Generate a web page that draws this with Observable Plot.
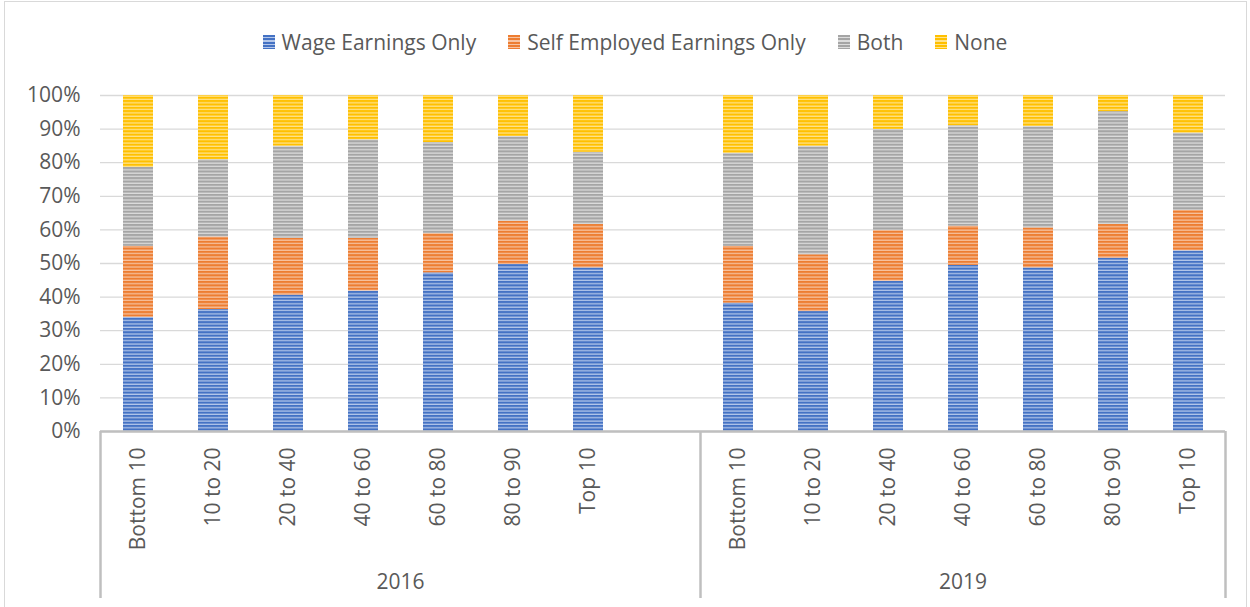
<!DOCTYPE html>
<html>
<head>
<meta charset="utf-8">
<script src="https://cdn.jsdelivr.net/npm/d3@7"></script>
<script src="https://cdn.jsdelivr.net/npm/@observablehq/plot@0.6"></script>
<style>
  body { margin: 0; background: #fff; }
  #wrap { position: relative; width: 1250px; height: 607px; overflow: hidden; font-family: "Open Sans", sans-serif; color: #595959; }
  #frame { position: absolute; left: 4px; top: 1px; width: 1243px; height: 620px; border: 1px solid #d9d9d9; box-sizing: border-box; pointer-events: none; }
  #legend { height: 80px; display: flex; justify-content: center; align-items: center; font-size: 21px; padding-left: 20px; padding-top: 4px; box-sizing: border-box; }
  .item { display: flex; align-items: center; margin: 0 16px; }
  .sw { width: 12px; height: 14px; margin-right: 7px; }
</style>
</head>
<body>
<div id="wrap">
  <div id="frame"></div>
  <div id="legend"></div>
  <div id="chart"></div>
</div>
<script>
const categories = ["Bottom 10", "10 to 20", "20 to 40", "40 to 60", "60 to 80", "80 to 90", "Top 10"];
const years = ["2016", "2019"];
const series = ["Wage Earnings Only", "Self Employed Earnings Only", "Both", "None"];
const colors = ["#4472C4", "#ED7D31", "#A5A5A5", "#FFC000"];
const lightColors = ["#b4c7ea", "#f7c3a0", "#dcdcdc", "#ffe38c"];

const wage2016 = [34.0, 36.3, 40.6, 41.8, 47.2, 49.7, 48.7];
const self2016 = [21.1, 21.6, 16.9, 15.7, 11.7, 12.9, 12.9];
const both2016 = [23.5, 23.0, 27.4, 29.3, 27.1, 25.2, 21.5];
const none2016 = [21.4, 19.1, 15.1, 13.2, 14.0, 12.2, 16.9];

const wage2019 = [38.2, 35.7, 44.7, 49.4, 48.7, 51.6, 53.8];
const self2019 = [16.9, 16.9, 15.1, 11.7, 11.9, 10.0, 12.0];
const both2019 = [27.7, 32.3, 30.1, 29.9, 30.2, 33.6, 23.0];
const none2019 = [17.2, 15.1, 10.1, 9.0, 9.2, 4.8, 11.2];

const yTicks = [0, 10, 20, 30, 40, 50, 60, 70, 80, 90, 100];

const valuesByYear = {
  "2016": [wage2016, self2016, both2016, none2016],
  "2019": [wage2019, self2019, both2019, none2019]
};

// x domain: 2016 group has an empty slot after its last category
const keys = [];
years.forEach((yr, yi) => {
  categories.forEach(c => keys.push(yr + "|" + c));
  if (yi === 0) keys.push(yr + "|");
});

const rows = [];
years.forEach(yr => {
  categories.forEach((c, ci) => {
    series.forEach((s, si) => {
      rows.push({key: yr + "|" + c, year: yr, category: c, series: s, value: valuesByYear[yr][si][ci]});
    });
  });
});

// legend
const legend = d3.select("#legend");
series.forEach((s, i) => {
  const it = legend.append("div").attr("class", "item");
  it.append("div").attr("class", "sw")
    .style("background", `repeating-linear-gradient(to bottom, ${colors[i]} 0px, ${colors[i]} 2px, ${lightColors[i]} 2px, ${lightColors[i]} 3.3px)`);
  it.append("span").text(s);
});

const patIds = series.map((s, i) => "pat" + i);

const plot = Plot.plot({
  width: 1250,
  height: 527,
  marginLeft: 100,
  marginRight: 25,
  marginTop: 15,
  marginBottom: 176,
  style: {fontFamily: "'Open Sans', sans-serif", color: "#595959", background: "transparent", overflow: "visible"},
  x: {domain: keys, paddingInner: 0.6, paddingOuter: 0.3, axis: null},
  y: {domain: [0, 100], axis: null},
  color: {domain: series, range: patIds.map(id => `url(#${id})`)},
  marks: [
    Plot.gridY(yTicks, {stroke: "#d9d9d9", strokeOpacity: 1, strokeWidth: 1.3}),
    Plot.axisY(yTicks, {tickSize: 0, tickPadding: 20, tickFormat: d => d + "%", fontSize: 21, fill: "#595959", label: null}),
    Plot.barY(rows, {x: "key", y: "value", fill: "series", order: series}),
    Plot.ruleY([0], {stroke: "#bfbfbf", strokeWidth: 2.5}),
    Plot.axisX({tickSize: 0, tickRotate: -90, tickPadding: 16, fontSize: 21, fill: "#595959", label: null,
      tickFormat: k => k.split("|")[1]})
  ]
});

document.getElementById("chart").appendChild(plot);

const svg = d3.select(plot);
const defs = svg.insert("defs", ":first-child");
patIds.forEach((id, i) => {
  const p = defs.append("pattern").attr("id", id).attr("patternUnits", "userSpaceOnUse")
    .attr("width", 8).attr("height", 3.35);
  p.append("rect").attr("width", 8).attr("height", 3.35).attr("fill", lightColors[i]);
  p.append("rect").attr("width", 8).attr("height", 2.1).attr("fill", colors[i]);
});

// group separators and year labels, positioned through Plot's x scale
const xs = plot.scale("x");
const gap = xs.step - xs.bandwidth;
const y0 = plot.scale("y").apply(0);
const groupBounds = years.map(yr => {
  const ks = keys.filter(k => k.startsWith(yr + "|"));
  const left = xs.apply(ks[0]) - gap / 2;
  const right = xs.apply(ks[ks.length - 1]) + xs.bandwidth + gap / 2;
  return {yr, left, right};
});
const sepXs = [groupBounds[0].left, groupBounds[1].left, groupBounds[1].right];
const g = svg.append("g");
sepXs.forEach(x => {
  g.append("line").attr("x1", x).attr("x2", x).attr("y1", y0).attr("y2", 518)
    .attr("stroke", "#bfbfbf").attr("stroke-width", 2.5);
});
groupBounds.forEach(b => {
  g.append("text").attr("x", (b.left + b.right) / 2).attr("y", 503)
    .attr("text-anchor", "middle").attr("dominant-baseline", "middle")
    .attr("font-size", 21).attr("fill", "#595959").text(b.yr);
});
</script>
</body>
</html>
